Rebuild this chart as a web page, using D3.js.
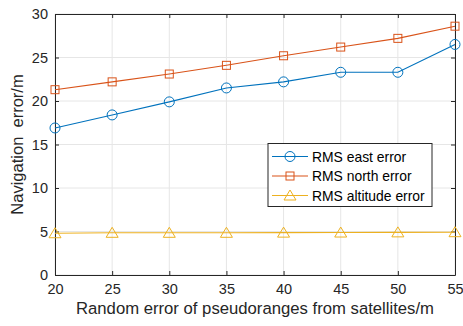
<!DOCTYPE html>
<html><head><meta charset="utf-8">
<script src="https://cdn.jsdelivr.net/npm/d3@7"></script>
<style>
body{margin:0;background:#fff;}
text{font-family:Arial,"Liberation Sans",sans-serif;}
</style></head>
<body><svg id="c" width="463" height="326"></svg>
<script>
// Positioning error vs. pseudorange noise level
const xTicks = [20, 25, 30, 35, 40, 45, 50, 55];
const yTicks = [0, 5, 10, 15, 20, 25, 30];
const eastErr  = [16.9, 18.4, 19.9, 21.5, 22.2, 23.3, 23.3, 26.5];
const northErr = [21.3, 22.2, 23.1, 24.1, 25.2, 26.2, 27.2, 28.6];
const altErr   = [4.8, 4.85, 4.85, 4.85, 4.87, 4.88, 4.9, 4.92];
const seriesNames = ["RMS east error", "RMS north error", "RMS altitude error"];
const colors = ["#0072BD", "#D95319", "#EDB120"];

const svg = d3.select("#c");
const L = 55, R = 455, T = 14, B = 275;
const x = d3.scaleLinear().domain([20, 55]).range([L, R]);
const y = d3.scaleLinear().domain([0, 30]).range([B, T]);
const ink = "#262626";

// grid
svg.append("g").selectAll("line").data(xTicks).join("line")
  .attr("x1", d => x(d)).attr("x2", d => x(d)).attr("y1", T).attr("y2", B)
  .attr("stroke", "#e6e6e6").attr("stroke-width", 1);
svg.append("g").selectAll("line").data(yTicks).join("line")
  .attr("y1", d => y(d)).attr("y2", d => y(d)).attr("x1", L).attr("x2", R)
  .attr("stroke", "#e6e6e6").attr("stroke-width", 1);

// axes (ticks inward, box all round)
const ax = g => g.selectAll("text").attr("fill", ink).style("font-size", "14.5px");
svg.append("g").attr("transform", `translate(0,${B})`)
  .call(d3.axisBottom(x).tickValues(xTicks).tickSize(-4).tickPadding(9).tickSizeOuter(0))
  .call(g => g.select(".domain").attr("stroke", ink))
  .call(g => g.selectAll("line").attr("stroke", ink)).call(ax);
svg.append("g").attr("transform", `translate(0,${T})`)
  .call(d3.axisTop(x).tickValues(xTicks).tickSize(-4).tickFormat("").tickSizeOuter(0))
  .call(g => g.select(".domain").attr("stroke", ink))
  .call(g => g.selectAll("line").attr("stroke", ink));
svg.append("g").attr("transform", `translate(${L},0)`)
  .call(d3.axisLeft(y).tickValues(yTicks).tickSize(-4).tickPadding(7).tickSizeOuter(0))
  .call(g => g.select(".domain").attr("stroke", ink))
  .call(g => g.selectAll("line").attr("stroke", ink)).call(ax);
svg.append("g").attr("transform", `translate(${R},0)`)
  .call(d3.axisRight(y).tickValues(yTicks).tickSize(-4).tickFormat("").tickSizeOuter(0))
  .call(g => g.select(".domain").attr("stroke", ink))
  .call(g => g.selectAll("line").attr("stroke", ink));

// markers: circle, square, triangle
function marker(g, type, cx, cy, color) {
  if (type === 0) g.append("circle").attr("cx", cx).attr("cy", cy).attr("r", 5);
  else if (type === 1) g.append("rect").attr("x", cx - 4).attr("y", cy - 4).attr("width", 8).attr("height", 8);
  else g.append("path").attr("d", `M${cx},${cy - 5.5}L${cx + 6},${cy + 4.5}L${cx - 6},${cy + 4.5}Z`);
  g.selectAll(":last-child").attr("fill", "none").attr("stroke", color).attr("stroke-width", 1);
}

const series = [eastErr, northErr, altErr];
const line = d3.line().x((d, i) => x(xTicks[i])).y(d => y(d));
series.forEach((vals, k) => {
  const g = svg.append("g");
  g.append("path").attr("d", line(vals)).attr("fill", "none")
    .attr("stroke", colors[k]).attr("stroke-width", 1.1);
  vals.forEach((v, i) => marker(g, k, x(xTicks[i]), y(v), colors[k]));
});

// legend
const lg = svg.append("g");
lg.append("rect").attr("x", 268).attr("y", 143.5).attr("width", 164).attr("height", 63)
  .attr("fill", "#fff").attr("stroke", ink).attr("stroke-width", 1);
const rowY = [156.5, 176, 195.5];
seriesNames.forEach((n, k) => {
  const g = lg.append("g");
  g.append("line").attr("x1", 272).attr("x2", 308).attr("y1", rowY[k]).attr("y2", rowY[k])
    .attr("stroke", colors[k]).attr("stroke-width", 1.1);
  marker(g, k, 290, rowY[k], colors[k]);
  lg.append("text").attr("x", 312).attr("y", rowY[k] + 5).attr("fill", "#000")
    .style("font-size", "13.9px").text(n);
});

// axis titles
svg.append("text").attr("x", 255).attr("y", 314).attr("text-anchor", "middle")
  .attr("fill", ink).style("font-size", "16.7px").text("Random error of pseudoranges from satellites/m");
svg.append("text").attr("transform", `translate(23,144.5) rotate(-90)`)
  .attr("text-anchor", "middle").attr("fill", ink).style("font-size", "16.5px")
  .style("white-space", "pre").attr("xml:space", "preserve").text("Navigation  error/m");
</script></body></html>
